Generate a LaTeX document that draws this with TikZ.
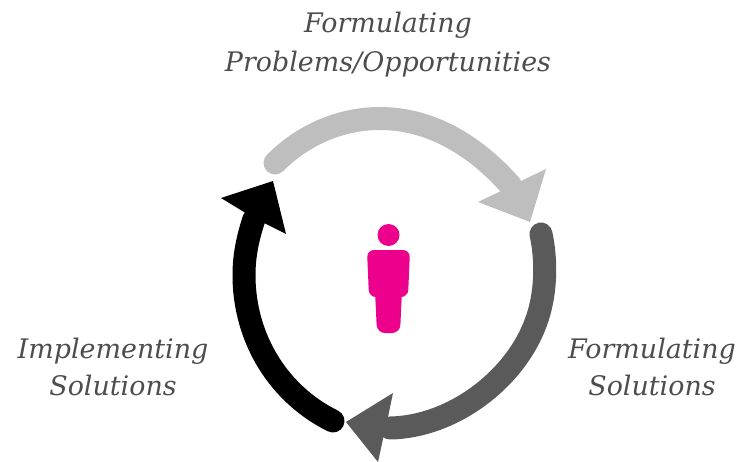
\documentclass[tikz,border=0pt]{standalone}
\usepackage{fontspec}
\setmainfont{DejaVu Serif}
\definecolor{stepgray}{HTML}{BEBEBE}
\definecolor{stepdark}{HTML}{5A5A5A}
\definecolor{personpink}{HTML}{EC008C}
\definecolor{labelgray}{HTML}{4D4D4D}
\tikzset{
  lbl/.style={text=labelgray,align=center,inner sep=0pt,font=\fontsize{26.9}{37}\selectfont\itshape},
  lbltop/.style={lbl,font=\fontsize{26.9}{39}\selectfont\itshape},
  shaft/.style={line width=23pt,line cap=round,line join=round}
}
\begin{document}
\begin{tikzpicture}[x=1pt,y=-1pt]
\useasboundingbox (0,0) rectangle (751,462);
% labels
\node[lbltop] (top) at (388,45) {Formulating\\Problems/Opportunities};
\node[lbl] (left) at (113,367) {Implementing\\Solutions};
\node[lbl] (right) at (652,367) {Formulating\\Solutions};
% gray arrow
\coordinate (gs) at (275,163);
\coordinate (gn) at (511,186);
\draw[shaft,stepgray] (gs) .. controls (305,133) and (343,118.5) .. (380,118.5) .. controls (430,118.5) and (475,145) .. (gn);
\fill[stepgray] (530,222) -- (546,169) -- (521,181) -- (501,191) -- (478,202) -- cycle;
% dark arrow
\coordinate (ds) at (541,234);
\coordinate (dn) at (390,428);
\draw[shaft,stepdark] (ds) .. controls (547,262) and (546,295) .. (536,322) .. controls (515,380) and (452,427) .. (dn);
\fill[stepdark] (346,422) -- (393,393) -- (388,417) -- (383,439) -- (378,462) -- cycle;
% black arrow
\coordinate (bs) at (333,421);
\coordinate (bn) at (254,219);
\draw[shaft,black] (bs) .. controls (280,395) and (244,340) .. (244,275) .. controls (244,255) and (248,237) .. (bn);
\fill[black] (273,181) -- (221,198) -- (244,212) -- (264,223) -- (286,234) -- cycle;
% person
\fill[personpink] (388.5,235) circle (11);
\fill[personpink,rounded corners=8pt] (374.5,280) -- (402.5,280) -- (400,333) -- (377,333) -- cycle;
\fill[personpink,rounded corners=7pt] (367,250) -- (410,250) -- (408,297) -- (369,297) -- cycle;
\end{tikzpicture}
\end{document}
